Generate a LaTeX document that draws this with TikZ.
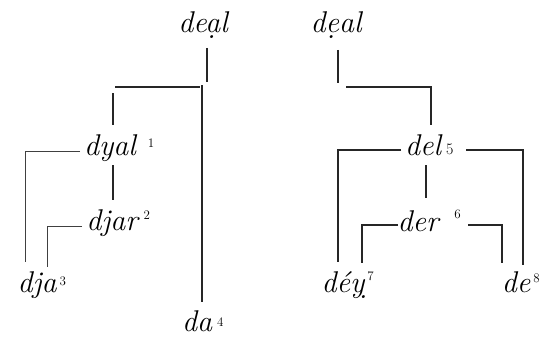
\documentclass[tikz,border=0pt]{standalone}
\usepackage{fontspec}
\usetikzlibrary{calc}
\newcommand{\wsup}[4]{#1\rlap{\hspace{#2}\raisebox{#3}{\fontsize{13}{13}\selectfont\upshape\addfontfeatures{LetterSpace=0,FakeStretch=1}#4}}}
\tikzset{
  lbl/.style={inner sep=0pt, anchor=base, font=\fontsize{30}{34}\selectfont\itshape\addfontfeatures{FakeStretch=0.86,LetterSpace=3}},
  ln/.style={line width=1.4pt, draw=black!85},
  thin ln/.style={line width=0.8pt, draw=black!75}
}
\begin{document}
\begin{tikzpicture}[x=1pt,y=-1pt]
\useasboundingbox (0,0) rectangle (546,337);
% left tree labels
\node[lbl] (dealL) at (203,33) {de\d{a}l};
\node[lbl] (dyal) at (110,155) {\wsup{dyal}{12pt}{8pt}{1}};
\node[lbl] (djar) at (112,230) {\wsup{djar}{6pt}{11pt}{2}};
\node[lbl] (dja) at (37,292) {\wsup{dja}{3pt}{7pt}{3}};
\node[lbl] (da) at (197,331) {\wsup{da}{5pt}{5pt}{4}};
% right tree labels
\node[lbl] (dealR) at (336,33) {d\d{e}al};
\node[lbl] (del) at (423,155) {\wsup{del}{5pt}{1pt}{\fontsize{16}{16}\selectfont 5}};
\node[lbl] (der) at (418,231) {\wsup{der}{16pt}{13pt}{6}};
\node[lbl] (dey) at (343,292) {\wsup{d\'e\d{y}}{3pt}{12pt}{7}};
\node[lbl] (de) at (516,292) {\wsup{de}{3pt}{10pt}{8}};
% left tree connectors
\draw[ln] (dealL.base) ++(4,15) -- ++(0,34);
\draw[ln] (dyal.base) ++(5,-68) -- ++(85,0);
\draw[ln] (dyal.base) ++(3,-62) -- ++(0,32);
\draw[ln] (da.base) ++(5,-246) -- ++(0,217);
\draw[thin ln] (dyal.base) ++(-30,-4) -- ++(-55,0) -- ++(0,111);
\draw[ln] (dyal.base) ++(3,10) -- ++(0,35);
\draw[thin ln] (djar.base) ++(-30,-4) -- ++(-35,0) -- ++(0,41);
% right tree connectors
\draw[ln] (dealR.base) ++(2,17) -- ++(0,33);
\draw[ln] (del.base) ++(-77,-68) -- ++(85,0) -- ++(0,38);
\draw[ln] (del.base) ++(-22,-5) -- ++(-63,0) -- ++(0,112);
\draw[ln] (del.base) ++(43,-5) -- ++(57,0) -- ++(0,115);
\draw[ln] (del.base) ++(3,10) -- ++(0,33);
\draw[ln] (der.base) ++(-20,-6) -- ++(-36,0) -- ++(0,38);
\draw[ln] (der.base) ++(50,-6) -- ++(34,0) -- ++(0,38);
\end{tikzpicture}
\end{document}
